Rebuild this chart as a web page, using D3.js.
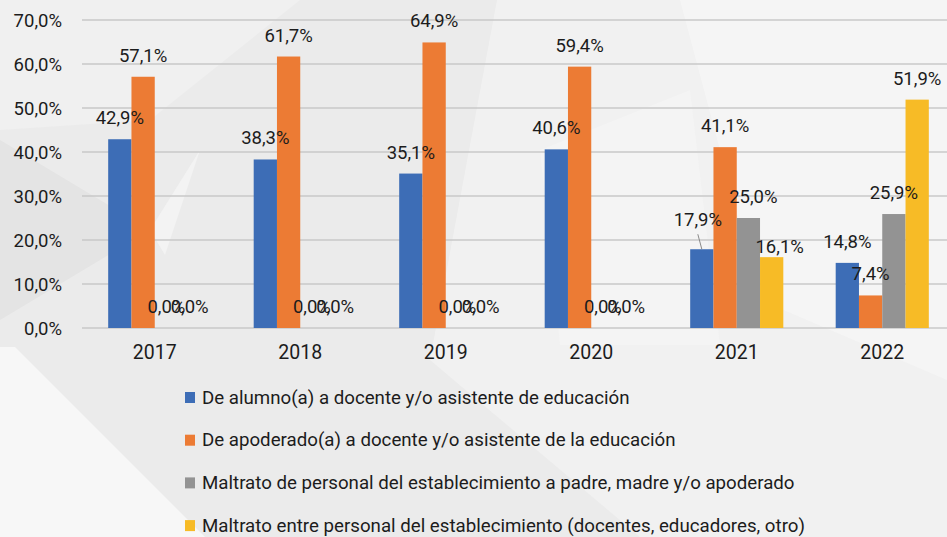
<!DOCTYPE html>
<html>

<head>
    <script src="https://d3js.org/d3.v7.min.js"></script>
    <style>
        body { margin: 0; background: #ebebeb; }
        svg text { font-family: "Roboto", "Liberation Sans", sans-serif; fill: #1c1c1c; }
    </style>
</head>

<body>
    <div id="chart"></div>
    <script>
        const width = 947
        const height = 537

        // data
        const years = ["2017", "2018", "2019", "2020", "2021", "2022"]
        const seriesNames = [
            "De alumno(a) a docente y/o asistente de educación",
            "De apoderado(a) a docente y/o asistente de la educación",
            "Maltrato de personal del establecimiento a padre, madre y/o apoderado",
            "Maltrato entre personal del establecimiento (docentes, educadores, otro)"
        ]
        const alumno = [42.9, 38.3, 35.1, 40.6, 17.9, 14.8]
        const apoderado = [57.1, 61.7, 64.9, 59.4, 41.1, 7.4]
        const personalPadres = [0, 0, 0, 0, 25.0, 25.9]
        const entrePersonal = [0, 0, 0, 0, 16.1, 51.9]
        const yTicks = [0, 10, 20, 30, 40, 50, 60, 70]

        const colors = ["#3d6db6", "#ec7b34", "#939393", "#f7bb26"]
        const allSeries = [alumno, apoderado, personalPadres, entrePersonal]

        const fmt = v => v.toFixed(1).replace(".", ",") + "%"

        const svg = d3.select("#chart").append("svg")
            .attr("width", width).attr("height", height)

        // faint low-poly background
        const bg = svg.append("g")
        const shapes = [
            { p: [[0, 0], [947, 0], [947, 537], [0, 537]], c: "#ebebeb" },
            { p: [[0, 0], [300, 0], [150, 120], [0, 130]], c: "#f0f0f0" },
            { p: [[497, 0], [947, 0], [947, 537], [640, 537], [430, 360]], c: "#f1f1f1" },
            { p: [[680, 0], [947, 0], [947, 380], [760, 300]], c: "#f5f5f5" },
            { p: [[540, 150], [690, 90], [720, 345], [560, 345]], c: "#f4f4f4" },
            { p: [[0, 347], [15, 347], [205, 537], [0, 537]], c: "#f7f7f7" },
            { p: [[0, 140], [150, 230], [0, 320]], c: "#e4e4e4" },
            { p: [[150, 230], [200, 150], [165, 255]], c: "#f3f3f3" }
        ]
        bg.selectAll("polygon").data(shapes).enter().append("polygon")
            .attr("points", d => d.p.map(q => q.join(",")).join(" "))
            .attr("fill", d => d.c)

        const xScale = d3.scaleBand().domain(years).range([82, 955])
        const bw = xScale.bandwidth()
        const groupW = bw * 0.64
        const x1 = d3.scaleBand().domain([0, 1, 2, 3])
            .range([(bw - groupW) / 2, (bw + groupW) / 2])

        const yScale = d3.scaleLinear().domain([0, 70]).range([328, 20])

        // gridlines
        svg.append("g").selectAll("line").data(yTicks).enter().append("line")
            .attr("x1", 82).attr("x2", width)
            .attr("y1", d => yScale(d)).attr("y2", d => yScale(d))
            .attr("stroke", "#c9c9c9").attr("stroke-width", 1.5)

        // y labels
        const yAxis = d3.axisLeft(yScale).tickValues(yTicks).tickFormat(fmt).tickSize(0).tickPadding(0)
        const yg = svg.append("g").attr("transform", "translate(62,0)").call(yAxis)
        yg.select(".domain").remove()
        yg.selectAll("text").style("font-size", "18.5px").attr("dy", "0.35em").attr("fill", "#1c1c1c")

        // x labels
        const xAxis = d3.axisBottom(xScale).tickSize(0).tickPadding(0)
        const xg = svg.append("g").attr("transform", "translate(0,345)").call(xAxis)
        xg.select(".domain").remove()
        xg.selectAll("text").style("font-size", "19.5px").attr("dy", "0.71em").attr("fill", "#1c1c1c")

        const flat = []
        allSeries.forEach((vals, s) => {
            vals.forEach((v, i) => flat.push({ s: s, year: years[i], v: v }))
        })

        svg.append("g").selectAll("rect").data(flat).enter().append("rect")
            .attr("x", d => xScale(d.year) + x1(d.s))
            .attr("width", x1.bandwidth())
            .attr("y", d => yScale(d.v))
            .attr("height", d => yScale(0) - yScale(d.v))
            .attr("fill", d => colors[d.s])

        // a few labels were moved by hand in the original
        const nudge = { "0-2021": [-4, -8], "3-2021": [8, 11], "2-2021": [5, 0] }

        svg.append("g").selectAll("text").data(flat).enter().append("text")
            .attr("x", d => xScale(d.year) + x1(d.s) + x1.bandwidth() / 2 + (nudge[d.s + "-" + d.year] || [0, 0])[0])
            .attr("y", d => yScale(d.v) - 15 + (nudge[d.s + "-" + d.year] || [0, 0])[1])
            .attr("text-anchor", "middle")
            .style("font-size", "18.5px")
            .text(d => fmt(d.v))

        // leader line for 17,9%
        const lx = xScale("2021") + x1(0) + x1.bandwidth() / 2
        svg.append("line")
            .attr("x1", lx - 4).attr("y1", yScale(alumno[4]) - 15)
            .attr("x2", lx).attr("y2", yScale(alumno[4]))
            .attr("stroke", "#8a8a8a").attr("stroke-width", 1)

        // legend
        const legend = svg.append("g").selectAll("g").data(seriesNames).enter().append("g")
            .attr("transform", (d, i) => "translate(185," + (397 + i * 42.7) + ")")
        legend.append("rect")
            .attr("x", 0).attr("y", -5).attr("width", 10).attr("height", 11)
            .attr("fill", (d, i) => colors[i])
        legend.append("text")
            .attr("x", 17).attr("y", 0).attr("dy", "0.35em")
            .style("font-size", "18.7px")
            .text(d => d)
    </script>
</body>

</html>
